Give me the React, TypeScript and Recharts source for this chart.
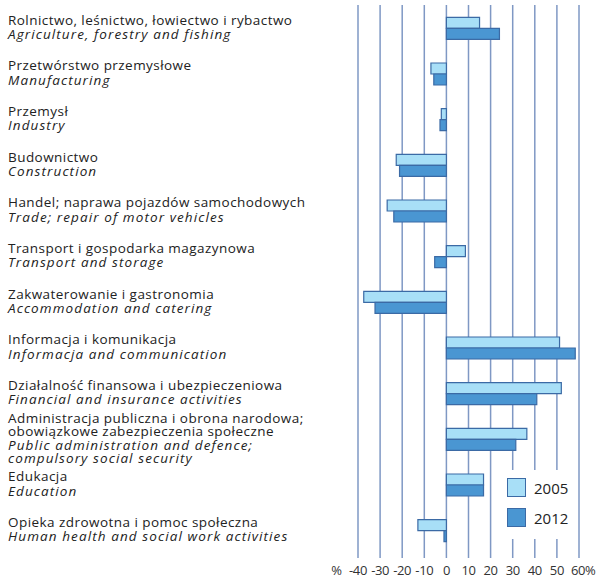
import React from "react"
import { BarChart, Bar, XAxis, YAxis, CartesianGrid } from "recharts"

// sectors: Polish name lines, English name lines
const sectorsPl = [
  ["Rolnictwo, leśnictwo, łowiectwo i rybactwo"],
  ["Przetwórstwo przemysłowe"],
  ["Przemysł"],
  ["Budownictwo"],
  ["Handel; naprawa pojazdów samochodowych"],
  ["Transport i gospodarka magazynowa"],
  ["Zakwaterowanie i gastronomia"],
  ["Informacja i komunikacja"],
  ["Działalność finansowa i ubezpieczeniowa"],
  ["Administracja publiczna i obrona narodowa;", "obowiązkowe zabezpieczenia społeczne"],
  ["Edukacja"],
  ["Opieka zdrowotna i pomoc społeczna"],
]

const sectorsEn = [
  ["Agriculture, forestry and fishing"],
  ["Manufacturing"],
  ["Industry"],
  ["Construction"],
  ["Trade; repair of motor vehicles"],
  ["Transport and storage"],
  ["Accommodation and catering"],
  ["Informacja and communication"],
  ["Financial and insurance activities"],
  ["Public administration and defence;", "compulsory social security"],
  ["Education"],
  ["Human health and social work activities"],
]

const values2005 = [15, -7, -2.3, -22.7, -26.8, 8.6, -37.4, 51.2, 52, 36.4, 16.8, -12.9]
const values2012 = [24, -5.7, -2.9, -21.2, -23.8, -5.3, -32.3, 58.3, 40.9, 31.4, 16.8, -1.1]

const xTicks = [-40, -30, -20, -10, 0, 10, 20, 30, 40, 50, 60]
const years = ["2005", "2012"]

const data = sectorsPl.map((pl, i) => ({
  id: String(i),
  y2005: values2005[i],
  y2012: values2012[i],
}))

const FONT = "'Open Sans', sans-serif"
const LIGHT = "#a8dff7"
const DARK = "#4a96d2"
const EDGE = "#3b6aa5"

function SectorTick({ y, payload }: any) {
  const i = Number(payload.value)
  const lines = [
    ...sectorsPl[i].map((t) => ({ t, italic: false })),
    ...sectorsEn[i].map((t) => ({ t, italic: true })),
  ]
  const lh = lines.length > 2 ? 13.5 : 14.5
  const start = y - ((lines.length - 1) * lh) / 2 - 1
  return (
    <text x={8} y={start} fontFamily={FONT} fill="#222" dominantBaseline="central">
      {lines.map((l, k) => (
        <tspan
          key={k}
          x={8}
          y={start + k * lh}
          fontSize={13.5}
          letterSpacing={l.italic ? 1.1 : 0.45}
          fontStyle={l.italic ? "italic" : "normal"}
        >
          {l.t}
        </tspan>
      ))}
    </text>
  )
}

function PercentTick({ x, y, payload, index }: any) {
  const last = index === xTicks.length - 1
  return (
    <g>
      {index === 0 && (
        <text x={x - 16} y={y} textAnchor="end" fontFamily={FONT} fontSize={13} fill="#333" dominantBaseline="central">
          %
        </text>
      )}
      <text
        x={last ? x - 8 : x}
        y={y}
        textAnchor={last ? "start" : "middle"}
        fontFamily={FONT}
        fontSize={13}
        letterSpacing={-0.4}
        fill="#333"
        dominantBaseline="central"
      >
        {last ? `${payload.value}%` : payload.value}
      </text>
    </g>
  )
}

function LegendBox() {
  const colors = [LIGHT, DARK]
  return (
    <div
      style={{
        position: "absolute",
        left: 497,
        top: 470,
        width: 70,
        background: "#fff",
        padding: "8px 0 1px 10px",
      }}
    >
      {years.map((label, k) => (
        <div key={label} style={{ display: "flex", alignItems: "center", height: 19, marginBottom: 11 }}>
          <div
            style={{ width: 17, height: 17, background: colors[k], border: `1px solid ${EDGE}`, marginRight: 8 }}
          />
          <span style={{ fontFamily: FONT, fontSize: 15, color: "#222" }}>{label}</span>
        </div>
      ))}
    </div>
  )
}

export default function App() {
  return (
    <div style={{ position: "absolute", left: 0, top: 0, width: 602, height: 582, background: "#fff" }}>
      <BarChart
        width={602}
        height={582}
        data={data}
        layout="vertical"
        margin={{ top: 5, right: 23, left: 0, bottom: 0 }}
        barCategoryGap="27%"
        barGap={0}
      >
        <CartesianGrid horizontal={false} stroke="#7f98c4" strokeWidth={1.5} />
        <XAxis
          type="number"
          domain={[-40, 60]}
          ticks={xTicks}
          interval={0}
          axisLine={false}
          tickLine={false}
          height={24}
          tick={<PercentTick />}
          tickMargin={6}
        />
        <YAxis
          type="category"
          dataKey="id"
          width={358}
          axisLine={false}
          tickLine={false}
          tick={<SectorTick />}
          interval={0}
          padding={{ top: 0, bottom: 5 }}
        />
        <Bar dataKey="y2005" fill={LIGHT} stroke={EDGE} strokeWidth={1.2} isAnimationActive={false} />
        <Bar dataKey="y2012" fill={DARK} stroke={EDGE} strokeWidth={1.2} isAnimationActive={false} />
      </BarChart>
      <LegendBox />
    </div>
  )
}
